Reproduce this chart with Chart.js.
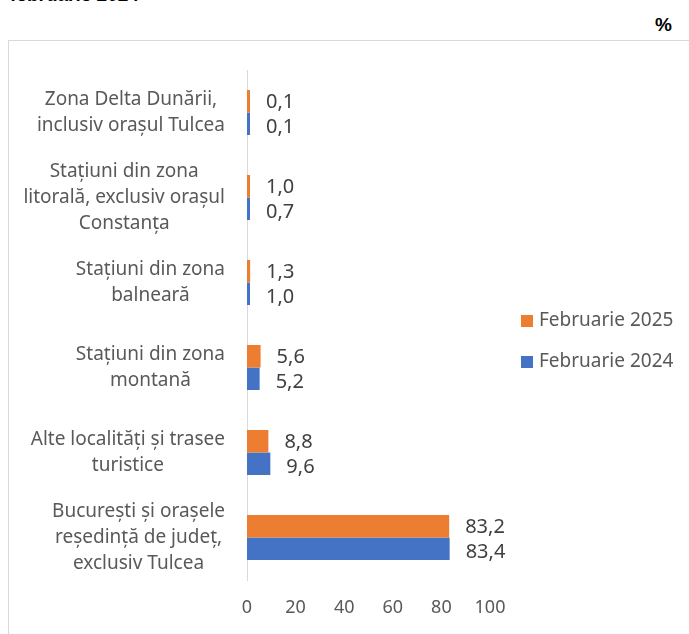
<!DOCTYPE html>
<html>
<head>
<meta charset="utf-8">
<script src="https://cdn.jsdelivr.net/npm/chart.js@4.4.1/dist/chart.umd.min.js"></script>
<style>
  html, body { margin: 0; padding: 0; background: #ffffff; overflow: hidden; }
  body { width: 689px; height: 634px; position: relative; font-family: "Noto Sans", sans-serif; }
  #title { position: absolute; left: 10px; top: -16px; font-weight: bold; font-size: 19px; color: #000; white-space: nowrap; font-family: "Liberation Sans", sans-serif; }
  #unit { position: absolute; left: 655px; top: 14px; font-weight: bold; font-size: 19px; color: #000; font-family: "Liberation Sans", sans-serif; }
  #frame { position: absolute; left: 8px; top: 40px; width: 700px; height: 640px; border: 1px solid #d9d9d9; box-sizing: border-box; }
  #wrap { position: absolute; left: 8px; top: 40px; width: 681px; height: 594px; }
</style>
</head>
<body>
<div id="title">februarie 2024</div>
<div id="unit">%</div>
<div id="frame"></div>
<div id="wrap"><canvas id="c"></canvas></div>
<script>
const categories = [
  ["Zona Delta Dunării,", "inclusiv orașul Tulcea"],
  ["Stațiuni din zona", "litorală, exclusiv orașul", "Constanța"],
  ["Stațiuni din zona", "balneară"],
  ["Stațiuni din zona", "montană"],
  ["Alte localități și trasee", "turistice"],
  ["București și orașele", "reședință de județ,", "exclusiv Tulcea"]
];
const seriesNames = ["Februarie 2025", "Februarie 2024"];
const feb2025 = [0.1, 1.0, 1.3, 5.6, 8.8, 83.2];
const feb2024 = [0.1, 0.7, 1.0, 5.2, 9.6, 83.4];
const xTicks = [0, 20, 40, 60, 80, 100];
const colors = ["#ED7D31", "#4472C4"];

const FONT = '"Noto Sans", sans-serif';

const catLabelPlugin = {
  id: 'catLabels',
  afterDraw(chart) {
    const ctx = chart.ctx;
    const y = chart.scales.y;
    ctx.save();
    ctx.font = '19px ' + FONT;
    ctx.fillStyle = '#595959';
    ctx.textAlign = 'center';
    ctx.textBaseline = 'middle';
    const rightEdge = y.right - 22;
    const lh = 26;
    chart.data.labels.forEach((lines, i) => {
      const py = y.getPixelForTick(i);
      const maxW = Math.max(...lines.map(l => ctx.measureText(l).width));
      const cx = rightEdge - maxW / 2;
      lines.forEach((l, j) => {
        ctx.fillText(l, cx, py + (j - (lines.length - 1) / 2) * lh);
      });
    });
    ctx.restore();
  }
};

const dataLabelPlugin = {
  id: 'dataLabels',
  afterDatasetsDraw(chart) {
    const ctx = chart.ctx;
    ctx.save();
    ctx.font = '20px ' + FONT;
    ctx.fillStyle = '#404040';
    ctx.textAlign = 'left';
    ctx.textBaseline = 'middle';
    chart.data.datasets.forEach((ds, di) => {
      const meta = chart.getDatasetMeta(di);
      meta.data.forEach((bar, i) => {
        const txt = ds.data[i].toFixed(1).replace('.', ',');
        const x = Math.max(bar.x, bar.base + 2);
        ctx.fillText(txt, x + 16, bar.y + (di === 1 ? 4 : 1));
      });
    });
    ctx.restore();
  }
};

const legendPlugin = {
  id: 'customLegend',
  afterDraw(chart) {
    const ctx = chart.ctx;
    ctx.save();
    ctx.font = '19px ' + FONT;
    ctx.textAlign = 'left';
    ctx.textBaseline = 'middle';
    const x0 = 513, ys = [281, 322];
    chart.data.datasets.forEach((ds, i) => {
      ctx.fillStyle = ds.backgroundColor;
      ctx.fillRect(x0, ys[i] - 6, 12, 12);
      ctx.fillStyle = '#595959';
      ctx.fillText(ds.label, x0 + 18, ys[i]);
    });
    ctx.restore();
  }
};

new Chart(document.getElementById('c'), {
  type: 'bar',
  data: {
    labels: categories,
    datasets: [
      { label: seriesNames[0], data: feb2025, backgroundColor: colors[0] },
      { label: seriesNames[1], data: feb2024, backgroundColor: colors[1] }
    ]
  },
  options: {
    indexAxis: 'y',
    responsive: true,
    maintainAspectRatio: false,
    animation: false,
    events: [],
    layout: { padding: { top: 30, right: 199, bottom: 0, left: 0 } },
    datasets: { bar: { categoryPercentage: 0.53, barPercentage: 1.0, minBarLength: 3 } },
    plugins: { legend: { display: false }, tooltip: { enabled: false } },
    scales: {
      x: {
        min: 0, max: 100,
        afterBuildTicks(s) { s.ticks = xTicks.map(v => ({ value: v })); },
        afterFit(s) { s.height = 54; },
        grid: { display: false, drawTicks: false },
        border: { display: false },
        ticks: { padding: 17, color: '#595959', font: { family: FONT, size: 18 } }
      },
      y: {
        afterFit(s) { s.width = 239; },
        grid: { display: false, drawTicks: false },
        border: { display: true, color: '#d9d9d9', width: 1 },
        ticks: { display: false }
      }
    }
  },
  plugins: [catLabelPlugin, dataLabelPlugin, legendPlugin]
});
</script>
</body>
</html>
